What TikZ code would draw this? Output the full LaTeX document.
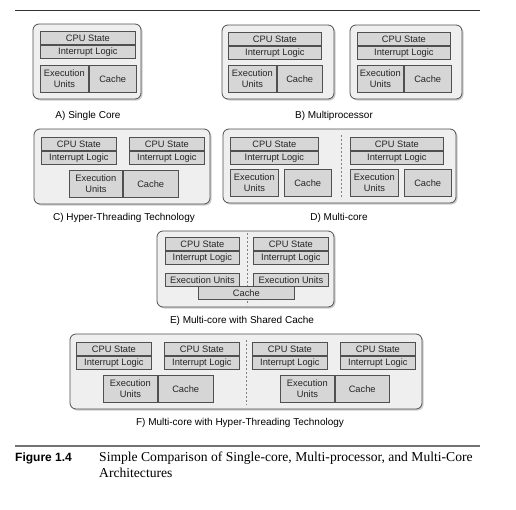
\documentclass[tikz,border=0pt]{standalone}
\usepackage{fontspec}
\setmainfont{Liberation Serif}
\setsansfont{Liberation Sans}
\usetikzlibrary{positioning,shadows}
\definecolor{cellgray}{HTML}{D6D6D6}
\definecolor{panelgray}{HTML}{EFEFEF}
\definecolor{edgegray}{HTML}{505050}
\tikzset{
  panel/.style={draw=edgegray, fill=panelgray, rounded corners=6pt, line width=0.8pt,
    drop shadow={shadow xshift=1.5pt, shadow yshift=-1.5pt, fill=black!40}},
  cell/.style={draw=edgegray, fill=cellgray, line width=0.8pt, inner sep=0pt, align=center,
    font=\sffamily\fontsize{9.3}{10.5}\selectfont, text=black!85},
  lbl/.style={font=\sffamily\fontsize{10}{12}\selectfont},
  corebar/.style={draw=gray, line width=0.8pt, dash pattern=on 2pt off 2pt},
}
% CPU State over Interrupt Logic: name, x, y, width
\newcommand{\regs}[4]{%
  \node[cell, anchor=north west, minimum width=#4pt, minimum height=13pt] (#1s) at (#2,#3) {CPU State};
  \node[cell, anchor=north, minimum width=#4pt, minimum height=13pt] (#1i) at (#1s.south) {Interrupt Logic};}
% Execution Units beside Cache: name, x, y, exec width, cache width, gap
\newcommand{\execpair}[6]{%
  \node[cell, anchor=north west, minimum width=#4pt, minimum height=27pt] (#1e) at (#2,#3) {Execution\\Units};
  \node[cell, minimum width=#5pt, minimum height=27pt, right=#6pt of #1e] (#1c) {Cache};}
\begin{document}
\begin{tikzpicture}[x=1pt, y=-1pt]
        \useasboundingbox (0,0) rectangle (516,509);
        \draw[line width=0.9pt, black!80] (15,10) -- (480,10);
        % A) single core
        \draw[panel] (33,24) rectangle (141,99);
        \regs{a}{40}{31}{95}
        \execpair{a}{40}{65}{48}{47}{0}
        \node[lbl] (labA) at (88,116) {A) Single Core};
        % B) multiprocessor
        \draw[panel] (222,25) rectangle (334,99);
        \draw[panel] (350,25) rectangle (462,99);
        \regs{ba}{228}{32}{93}
        \execpair{ba}{228}{65}{48}{45}{0}
        \regs{bb}{357}{32}{93}
        \execpair{bb}{357}{65}{46}{47}{0}
        \node[lbl] (labB) at (334,116) {B) Multiprocessor};
        % C) hyper-threading
        \draw[panel] (34,129) rectangle (210,204);
        \regs{ca}{41}{137}{75}
        \regs{cb}{129}{137}{75}
        \execpair{c}{69}{170}{53}{55}{0}
        \node[lbl] (labC) at (124,218) {C) Hyper-Threading Technology};
        % D) multi-core
        \draw[panel] (223,129) rectangle (456,203);
        \draw[corebar] (341,135) -- (341,199);
        \regs{da}{230}{137}{88}
        \execpair{da}{230}{169}{48}{47}{5}
        \regs{db}{350}{137}{93}
        \execpair{db}{350}{169}{48}{47}{5}
        \node[lbl] (labD) at (339,218) {D) Multi-core};
        % E) shared cache
        \draw[panel] (157,231) rectangle (334,307);
        \draw[corebar] (247,233) -- (247,305);
        \regs{ea}{165}{237}{74}
        \regs{eb}{253}{237}{75}
        \node[cell, anchor=north west, minimum width=74pt, minimum height=13pt] (eae) at (165,273) {Execution Units};
        \node[cell, anchor=north west, minimum width=75pt, minimum height=13pt] (ebe) at (253,273) {Execution Units};
        \node[cell, anchor=north west, minimum width=96pt, minimum height=13pt] (ec) at (198,286) {Cache};
        \node[lbl] (labE) at (242,321) {E) Multi-core with Shared Cache};
        % F) multi-core with hyper-threading
        \draw[panel] (70,334) rectangle (422,409);
        \draw[corebar] (246,340) -- (246,405);
        \regs{fa}{76}{342}{75}
        \regs{fb}{164}{342}{75}
        \regs{fc}{252}{342}{75}
        \regs{fd}{340}{342}{75}
        \execpair{fl}{103}{375}{54}{55}{0}
        \execpair{fr}{280}{375}{54}{54}{0}
        \node[lbl] (labF) at (240,423) {F) Multi-core with Hyper-Threading Technology};
        % caption
        \draw[line width=1.4pt, black!55] (15,446) -- (480,446);
        \node[anchor=base west, inner sep=0pt, font=\sffamily\bfseries\fontsize{12}{14}\selectfont] (fig) at (15,461) {Figure 1.4};
        \node[anchor=base west, inner sep=0pt, font=\fontsize{13.6}{16}\selectfont] (cap1) at (99,461) {Simple Comparison of Single-core, Multi-processor, and Multi-Core};
        \node[anchor=base west, inner sep=0pt, font=\fontsize{13.6}{16}\selectfont] (cap2) at (99,477) {Architectures};
\end{tikzpicture}
\end{document}
